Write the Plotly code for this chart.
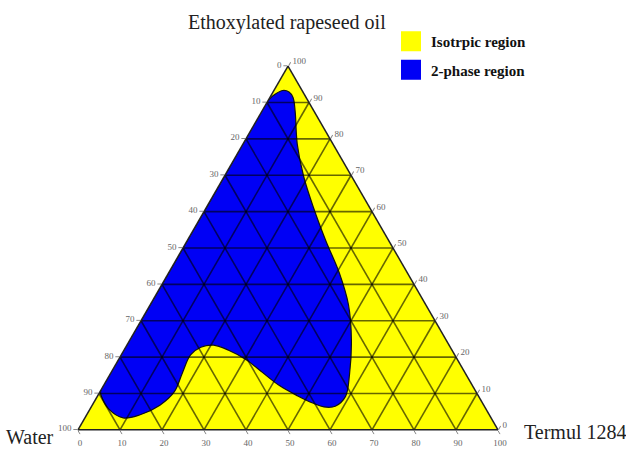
import plotly.graph_objects as go

# Grid / tick levels (wt%)
levels = list(range(0, 101, 10))

# Boundary of the 2-phase region (wt%), clockwise from the top tip,
# closing along the Water / Ethoxylated rapeseed oil edge
ethoxylated = [90.6, 92.4, 93.3, 92.9, 91.4, 87.6, 78.6, 69.8, 61.0, 52.0,
               43.2, 34.4, 24.6, 15.3, 9.2, 6.5, 6.3, 7.3, 9.4, 12.1,
               15.8, 19.3, 21.9, 23.3, 22.7, 20.6, 15.8, 10.5, 6.8, 4.1,
               3.3, 5.7, 9.2, 10.8, 30.0, 50.0, 70.0, 90.6]
water = [9.4, 6.7, 4.6, 3.3, 3.1, 4.5, 8.5, 11.4, 13.4, 15.0,
         16.2, 18.4, 22.6, 27.7, 31.7, 35.5, 38.3, 40.3, 43.1, 45.9,
         48.2, 50.3, 53.2, 56.1, 59.4, 62.9, 67.2, 71.8, 77.1, 83.3,
         87.6, 89.8, 89.8, 89.2, 70.0, 50.0, 30.0, 9.4]
termul = [0.0, 0.9, 2.1, 3.8, 5.5, 7.9, 12.9, 18.8, 25.6, 33.0,
          40.6, 47.2, 52.8, 57.0, 59.1, 58.0, 55.4, 52.4, 47.5, 42.0,
          36.0, 30.4, 24.9, 20.6, 17.9, 16.5, 17.0, 17.7, 16.1, 12.6,
          9.1, 4.5, 1.0, 0.0, 0.0, 0.0, 0.0, 0.0]

YELLOW = "#ffff00"
BLUE = "#0000f5"
SERIF = "Liberation Serif, Times New Roman, serif"

fig = go.Figure()

# 2-phase region
fig.add_trace(go.Scatterternary(
    a=ethoxylated, b=water, c=termul,
    mode="lines", fill="toself", fillcolor=BLUE,
    line=dict(color="#111111", width=1.2, shape="spline", smoothing=1.0),
    showlegend=False, legendgroup="two", hoverinfo="skip",
))

# Grid lines drawn on top of the regions
ga, gb, gc = [], [], []
for v in levels[1:-1]:
    r = 100 - v
    # constant Ethoxylated rapeseed oil
    ga += [v, v, None]; gb += [r, 0, None]; gc += [0, r, None]
    # constant Water
    ga += [r, 0, None]; gb += [v, v, None]; gc += [0, r, None]
    # constant Termul 1284
    ga += [r, 0, None]; gb += [0, r, None]; gc += [v, v, None]
fig.add_trace(go.Scatterternary(
    a=ga, b=gb, c=gc, mode="lines",
    line=dict(color="rgba(0,0,0,0.6)", width=1.6),
    showlegend=False, hoverinfo="skip", connectgaps=False,
))

# Legend entries (no plotted points)
fig.add_trace(go.Scatterternary(
    a=[None], b=[None], c=[None], mode="markers", name="Isotrpic region",
    marker=dict(symbol="square", size=16, color=YELLOW,
                line=dict(color=YELLOW, width=4)),
    legendgroup="iso", hoverinfo="skip",
))
fig.add_trace(go.Scatterternary(
    a=[None], b=[None], c=[None], mode="markers", name="2-phase region",
    marker=dict(symbol="square", size=16, color=BLUE,
                line=dict(color=BLUE, width=4)),
    legendgroup="two", hoverinfo="skip",
))


def axis_style():
    return dict(
        min=0,
        tickmode="array",
        tickvals=levels,
        ticktext=[str(100 - v) for v in levels],
        showgrid=False,
        showline=True, linecolor="#222222", linewidth=1.5,
        ticks="outside", ticklen=4, tickcolor="#888888",
        tickfont=dict(family=SERIF, size=9, color="#666666"),
        title=dict(text=""),
    )


W, H = 626, 449
fig.update_layout(
    width=W, height=H,
    margin=dict(l=0, r=0, t=0, b=0),
    paper_bgcolor="white",
    ternary=dict(
        sum=100,
        bgcolor=YELLOW,
        domain=dict(x=[78 / W, 498 / W], y=[1 - 430 / H, 1 - 66 / H]),
        aaxis=axis_style(),
        baxis=axis_style(),
        caxis=axis_style(),
    ),
    legend=dict(
        x=391 / W, y=1 - 25 / H, xanchor="left", yanchor="top",
        font=dict(family=SERIF, size=15, color="#111111", weight="bold"),
        itemsizing="trace", tracegroupgap=6, bgcolor="rgba(0,0,0,0)",
    ),
    annotations=[
        dict(text="Ethoxylated rapeseed oil", x=287 / W, y=1 - 22 / H,
             xref="paper", yref="paper", xanchor="center", yanchor="middle",
             showarrow=False, font=dict(family=SERIF, size=20, color="#222222")),
        dict(text="Water", x=56 / W, y=1 - 437 / H,
             xref="paper", yref="paper", xanchor="right", yanchor="middle",
             showarrow=False, font=dict(family=SERIF, size=20, color="#222222")),
        dict(text="Termul 1284", x=522 / W, y=1 - 432 / H,
             xref="paper", yref="paper", xanchor="left", yanchor="middle",
             showarrow=False, font=dict(family=SERIF, size=20, color="#222222")),
    ],
)

fig.write_html("out.html")
